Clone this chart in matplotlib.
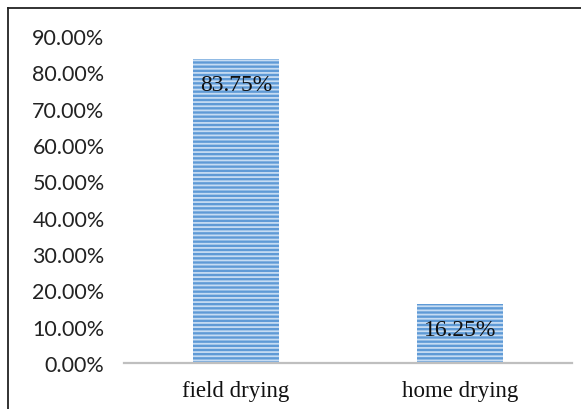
import matplotlib
matplotlib.use("Agg")
import matplotlib.pyplot as plt
from matplotlib.lines import Line2D

categories = ["field drying", "home drying"]
values = [0.8375, 0.1625]
value_labels = ["83.75%", "16.25%"]
yticks = [0.0, 0.1, 0.2, 0.3, 0.4, 0.5, 0.6, 0.7, 0.8, 0.9]
ytick_labels = ["0.00%", "10.00%", "20.00%", "30.00%", "40.00%",
                "50.00%", "60.00%", "70.00%", "80.00%", "90.00%"]

plt.rcParams["hatch.linewidth"] = 1.3

fig = plt.figure(figsize=(5.81, 4.10), dpi=100)
ax = fig.add_axes([124 / 581, 1 - 364 / 410, 448 / 581, (364 - 37) / 410])

bars = ax.bar(range(len(categories)), values, width=0.385,
              color="#5f9ad6", edgecolor="#c6dcf3", hatch="----", linewidth=0)

for b, lab in zip(bars, value_labels):
    ax.annotate(lab, (b.get_x() + b.get_width() / 2, b.get_height()),
                xytext=(0, -11), textcoords="offset points",
                ha="center", va="top", fontsize=17,
                family="Liberation Serif", color="#111111")

ax.set_xlim(-0.5, 1.5)
ax.set_ylim(0, 0.9)
ax.set_yticks(yticks)
ax.set_yticklabels(ytick_labels, family="Lato", fontsize=15.5, color="#222222")
ax.set_xticks(range(len(categories)))
ax.set_xticklabels(categories, family="Liberation Serif", fontsize=16.5, color="#111111")
ax.tick_params(axis="both", length=0)
ax.tick_params(axis="y", pad=14)
ax.tick_params(axis="x", pad=12)

for s in ["top", "right", "left"]:
    ax.spines[s].set_visible(False)
ax.spines["bottom"].set_color("#bfbfbf")
ax.spines["bottom"].set_linewidth(1.6)

# outer frame (top and left edges only)
fig.add_artist(Line2D([8 / 581, 1], [1 - 9 / 410, 1 - 9 / 410],
                      transform=fig.transFigure, color="#222222", lw=1.3))
fig.add_artist(Line2D([8 / 581, 8 / 581], [0, 1 - 9 / 410],
                      transform=fig.transFigure, color="#222222", lw=1.3))

fig.savefig("out.png", dpi=100)
